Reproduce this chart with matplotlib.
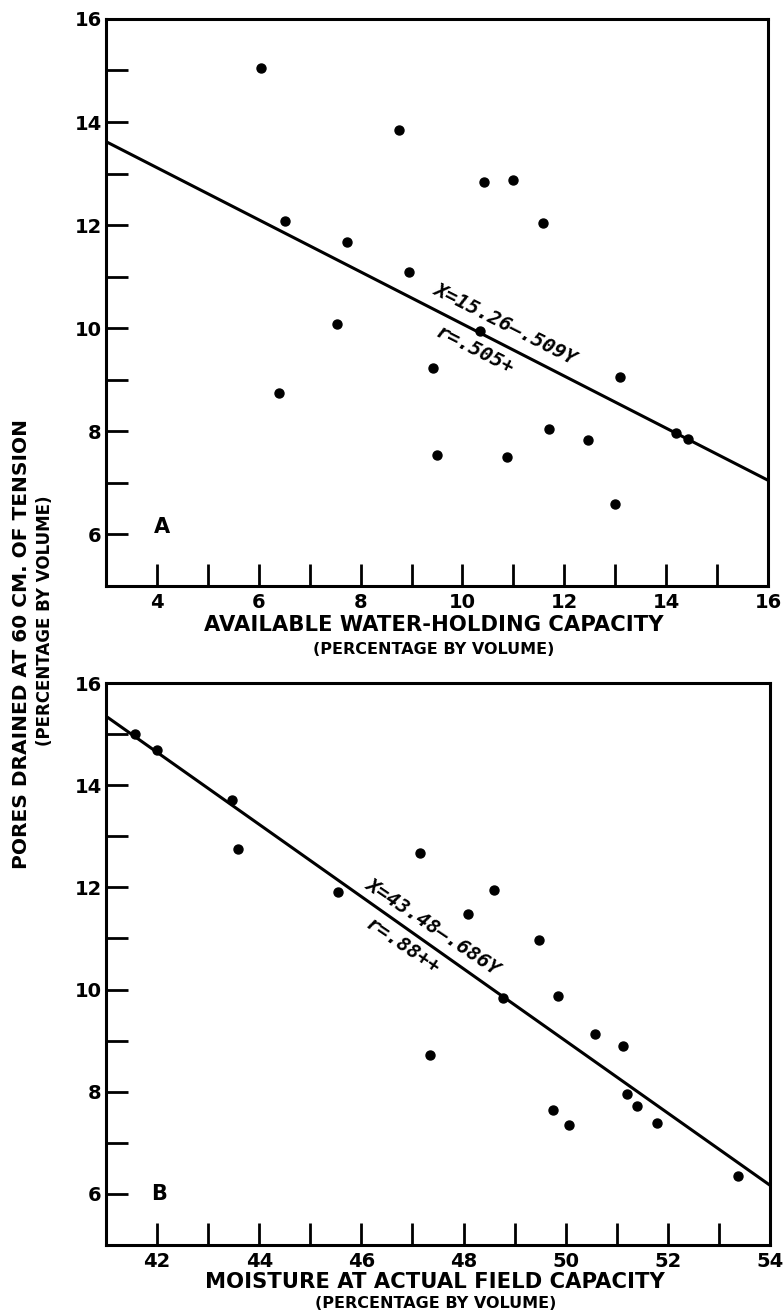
import matplotlib
matplotlib.use("Agg")
import matplotlib.pyplot as plt
from matplotlib.ticker import MultipleLocator

# panel A: available water-holding capacity vs pores drained
awc_x = [6.04, 6.51, 7.73, 8.75, 7.53, 6.39, 10.43, 10.99, 11.59, 8.95,
         10.34, 9.42, 9.50, 10.88, 11.69, 12.46, 13.09, 12.99, 14.20, 14.42]
awc_y = [15.05, 12.08, 11.67, 13.84, 10.08, 8.74, 12.83, 12.87, 12.04, 11.09,
         9.94, 9.22, 7.54, 7.50, 8.04, 7.84, 9.06, 6.59, 7.97, 7.86]
# regression line as drawn (ends)
awc_line_x = [3.0, 16.0]
awc_line_y = [13.62, 7.05]
awc_eq = "X=15.26—.509Y"
awc_r = "r=.505+"

# panel B: moisture at actual field capacity vs pores drained
fc_x = [41.56, 41.99, 43.46, 43.58, 45.55, 47.14, 48.60, 48.09, 49.47, 48.77,
        49.85, 47.34, 50.57, 51.13, 51.20, 51.39, 49.76, 50.07, 51.79, 53.37]
fc_y = [15.00, 14.68, 13.71, 12.75, 11.90, 12.68, 11.95, 11.48, 10.98, 9.83,
        9.88, 8.71, 9.13, 8.89, 7.96, 7.72, 7.64, 7.35, 7.38, 6.35]
fc_line_x = [41.0, 54.0]
fc_line_y = [15.35, 6.17]
fc_eq = "X=43.48—.686Y"
fc_r = "r=.88++"

plt.rcParams['font.family'] = ['DejaVu Sans']

fig = plt.figure(figsize=(7.83, 13.15), dpi=100)
ax1 = fig.add_axes([0.1354, 0.5544, 0.8455, 0.4312])
ax2 = fig.add_axes([0.1354, 0.0532, 0.8480, 0.4274])


def style_axes(ax, xlim):
    ax.set_xlim(*xlim)
    ax.set_ylim(5, 16)
    for s in ax.spines.values():
        s.set_linewidth(2.2)
    ax.xaxis.set_major_locator(MultipleLocator(2))
    ax.xaxis.set_minor_locator(MultipleLocator(1))
    ax.yaxis.set_major_locator(MultipleLocator(2))
    ax.yaxis.set_minor_locator(MultipleLocator(1))
    ax.tick_params(axis='both', which='both', direction='in', length=16, width=2,
                   top=False, right=False)
    ax.tick_params(axis='y', which='major', pad=3)
    ax.tick_params(axis='x', which='major', pad=5)


tick_font = dict(fontsize=14, fontweight='bold')
eq_font = dict(family='DejaVu Sans Mono', style='italic', fontweight='bold', fontsize=14.5)

# top panel
style_axes(ax1, (3, 16))
ax1.set_xticks([4, 6, 8, 10, 12, 14, 16])
ax1.set_xticklabels(['4', '6', '8', '10', '12', '14', '16'], **tick_font)
ax1.set_yticks([6, 8, 10, 12, 14, 16])
ax1.set_yticklabels(['6', '8', '10', '12', '14', '16'], **tick_font)
ax1.plot(awc_line_x, awc_line_y, color='black', linewidth=2.2, solid_capstyle='butt')
ax1.scatter(awc_x, awc_y, s=42, color='black', zorder=3)
ax1.text(10.84, 10.08, awc_eq, rotation=-27, ha='center', va='center', **eq_font)
ax1.text(10.24, 9.58, awc_r, rotation=-27, ha='center', va='center', **eq_font)
ax1.text(4.1, 6.14, 'A', ha='center', va='center', fontsize=15, fontweight='bold')

# bottom panel
style_axes(ax2, (41, 54))
ax2.set_xticks([42, 44, 46, 48, 50, 52, 54])
ax2.set_xticklabels(['42', '44', '46', '48', '50', '52', '54'], **tick_font)
ax2.set_yticks([6, 8, 10, 12, 14, 16])
ax2.set_yticklabels(['6', '8', '10', '12', '14', '16'], **tick_font)
ax2.plot(fc_line_x, fc_line_y, color='black', linewidth=2.2, solid_capstyle='butt')
ax2.scatter(fc_x, fc_y, s=42, color='black', zorder=3)
ax2.text(47.40, 11.23, fc_eq, rotation=-34, ha='center', va='center', **eq_font)
ax2.text(46.80, 10.85, fc_r, rotation=-34, ha='center', va='center', **eq_font)
ax2.text(42.03, 6.0, 'B', ha='center', va='center', fontsize=15, fontweight='bold')

# axis titles
fig.text(434 / 783, 1 - 625 / 1315, 'AVAILABLE WATER-HOLDING CAPACITY',
         ha='center', va='center', fontsize=15.2, fontweight='bold')
fig.text(434 / 783, 1 - 649 / 1315, '(PERCENTAGE BY VOLUME)',
         ha='center', va='center', fontsize=11.5, fontweight='bold')
fig.text(435 / 783, 1 - 1282 / 1315, 'MOISTURE AT ACTUAL FIELD CAPACITY',
         ha='center', va='center', fontsize=15.2, fontweight='bold')
fig.text(436 / 783, 1 - 1304 / 1315, '(PERCENTAGE BY VOLUME)',
         ha='center', va='center', fontsize=11.5, fontweight='bold')
fig.text(22 / 783, 1 - 644 / 1315, 'PORES DRAINED AT 60 CM. OF TENSION',
         rotation=90, ha='center', va='center', fontsize=14.5, fontweight='bold')
fig.text(45 / 783, 1 - 621 / 1315, '(PERCENTAGE BY VOLUME)',
         rotation=90, ha='center', va='center', fontsize=12, fontweight='bold')

fig.savefig('out.png', dpi=100)
